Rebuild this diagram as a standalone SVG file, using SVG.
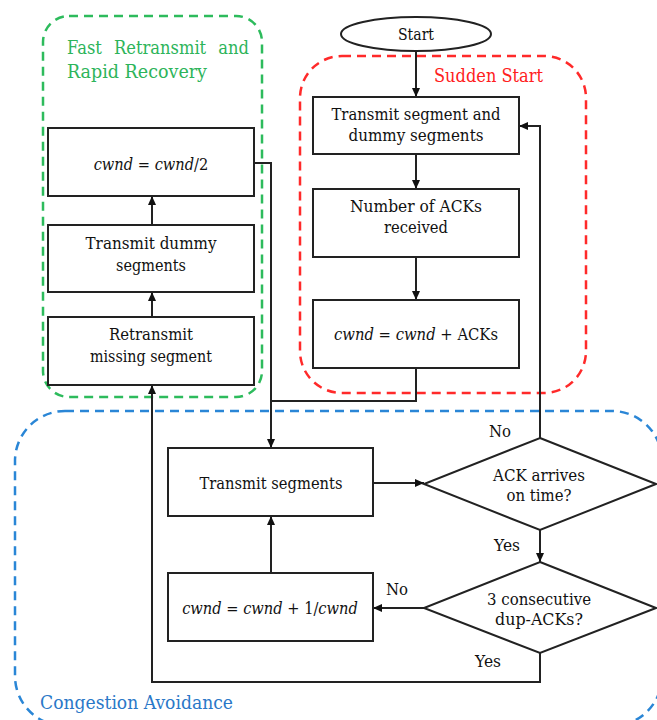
<svg xmlns="http://www.w3.org/2000/svg" width="657" height="720" viewBox="0 0 657 720">
<style>
.box{fill:#fff;stroke:#222;stroke-width:2}
.t{font-family:'DejaVu Serif',serif;font-size:17px;fill:#111;text-anchor:middle}
.l{font-family:'DejaVu Serif',serif;font-size:16px;fill:#111;text-anchor:middle}
.g{font-family:'DejaVu Serif',serif;font-size:19px}
.i{font-style:italic}
.c{fill:none;stroke:#222;stroke-width:2}
.grp{fill:none;stroke-width:2.5;stroke-dasharray:9 6}
</style>
<defs>
<marker id="ah" markerUnits="userSpaceOnUse" markerWidth="10" markerHeight="10" refX="9" refY="5" orient="auto">
<path d="M0,1 L9,5 L0,9 Z" fill="#111"/>
</marker>
</defs>
<g id="group-fast">
<rect x="43" y="16" width="219" height="381" rx="26" class="grp" stroke="#2dbb5c"/>
<text class="g" transform="translate(67,54) scale(0.86,1)" x="0" y="0" fill="#2db45a" word-spacing="8">Fast Retransmit and</text>
<text class="g" x="67" y="78" fill="#2db45a" textLength="140" lengthAdjust="spacingAndGlyphs">Rapid Recovery</text>
</g>
<g id="group-sudden">
<rect x="300" y="56" width="286" height="337" rx="42" class="grp" stroke="#ff2a2a"/>
<text class="g" x="434" y="82" fill="#ff2020" textLength="109" lengthAdjust="spacingAndGlyphs">Sudden Start</text>
</g>
<g id="group-congestion">
<rect x="15" y="411" width="647" height="315" rx="50" class="grp" stroke="#2a86d6"/>
<text class="g" x="40" y="709" fill="#2a78c8" textLength="193" lengthAdjust="spacingAndGlyphs">Congestion Avoidance</text>
</g>
<g id="connectors">
<path class="c" d="M416,51 V97" marker-end="url(#ah)"/>
<path class="c" d="M416,154 V189" marker-end="url(#ah)"/>
<path class="c" d="M416,257 V300" marker-end="url(#ah)"/>
<path class="c" d="M416,368 V401 H271"/>
<path class="c" d="M254,163 H271 V448" marker-end="url(#ah)"/>
<path class="c" d="M373,483 H424" marker-end="url(#ah)"/>
<path class="c" d="M540,438 V126 H519" marker-end="url(#ah)"/>
<path class="c" d="M540,530 V562" marker-end="url(#ah)"/>
<path class="c" d="M424,608 H373" marker-end="url(#ah)"/>
<path class="c" d="M271,573 V516" marker-end="url(#ah)"/>
<path class="c" d="M540,653 V682 H152 V385" marker-end="url(#ah)"/>
<path class="c" d="M152,317 V292" marker-end="url(#ah)"/>
<path class="c" d="M152,225 V196" marker-end="url(#ah)"/>
<text class="l" x="500" y="437" textLength="22" lengthAdjust="spacingAndGlyphs">No</text>
<text class="l" x="507" y="551" textLength="26" lengthAdjust="spacingAndGlyphs">Yes</text>
<text class="l" x="397" y="595" textLength="22" lengthAdjust="spacingAndGlyphs">No</text>
<text class="l" x="488" y="667" textLength="26" lengthAdjust="spacingAndGlyphs">Yes</text>
</g>
<g id="start">
<ellipse cx="416" cy="34" rx="75" ry="17" class="box"/>
<text class="t" x="416" y="40" textLength="36" lengthAdjust="spacingAndGlyphs">Start</text>
</g>
<g id="transmit-segment-dummy">
<rect x="313" y="97" width="206" height="57" class="box"/>
<text class="t" x="416" y="120" textLength="169" lengthAdjust="spacingAndGlyphs">Transmit segment and</text>
<text class="t" x="416" y="141" textLength="135" lengthAdjust="spacingAndGlyphs">dummy segments</text>
</g>
<g id="number-acks">
<rect x="313" y="189" width="206" height="68" class="box"/>
<text class="t" x="416" y="212" textLength="132" lengthAdjust="spacingAndGlyphs">Number of ACKs</text>
<text class="t" x="416" y="233" textLength="64" lengthAdjust="spacingAndGlyphs">received</text>
</g>
<g id="cwnd-acks">
<rect x="313" y="300" width="206" height="68" class="box"/>
<text class="t" transform="translate(416,340) scale(0.87,1)" x="0" y="0"><tspan class="i">cwnd</tspan> = <tspan class="i">cwnd</tspan> + ACKs</text>
</g>
<g id="cwnd-half">
<rect x="48" y="128" width="206" height="68" class="box"/>
<text class="t" transform="translate(151,170) scale(0.86,1)" x="0" y="0"><tspan class="i">cwnd</tspan> = <tspan class="i">cwnd</tspan>/2</text>
</g>
<g id="transmit-dummy">
<rect x="48" y="225" width="206" height="67" class="box"/>
<text class="t" x="151" y="249" textLength="131" lengthAdjust="spacingAndGlyphs">Transmit dummy</text>
<text class="t" x="151" y="271" textLength="70" lengthAdjust="spacingAndGlyphs">segments</text>
</g>
<g id="retransmit-missing">
<rect x="48" y="317" width="206" height="68" class="box"/>
<text class="t" x="151" y="340" textLength="84" lengthAdjust="spacingAndGlyphs">Retransmit</text>
<text class="t" x="151" y="362" textLength="122" lengthAdjust="spacingAndGlyphs">missing segment</text>
</g>
<g id="transmit-segments">
<rect x="168" y="448" width="205" height="68" class="box"/>
<text class="t" x="271" y="489" textLength="143" lengthAdjust="spacingAndGlyphs">Transmit segments</text>
</g>
<g id="cwnd-inc">
<rect x="168" y="573" width="205" height="68" class="box"/>
<text class="t" transform="translate(270,614) scale(0.86,1)" x="0" y="0"><tspan class="i">cwnd</tspan> = <tspan class="i">cwnd</tspan> + 1/<tspan class="i">cwnd</tspan></text>
</g>
<g id="ack-on-time">
<path d="M540,438 L656,484 L540,530 L424,484 Z" class="box"/>
<text class="t" x="539" y="481" textLength="92" lengthAdjust="spacingAndGlyphs">ACK arrives</text>
<text class="t" x="539" y="501" textLength="65" lengthAdjust="spacingAndGlyphs">on time?</text>
</g>
<g id="dup-acks">
<path d="M540,562 L656,608 L540,653 L424,608 Z" class="box"/>
<text class="t" x="539" y="605" textLength="104" lengthAdjust="spacingAndGlyphs">3 consecutive</text>
<text class="t" x="539" y="625" textLength="88" lengthAdjust="spacingAndGlyphs">dup-ACKs?</text>
</g>
</svg>
